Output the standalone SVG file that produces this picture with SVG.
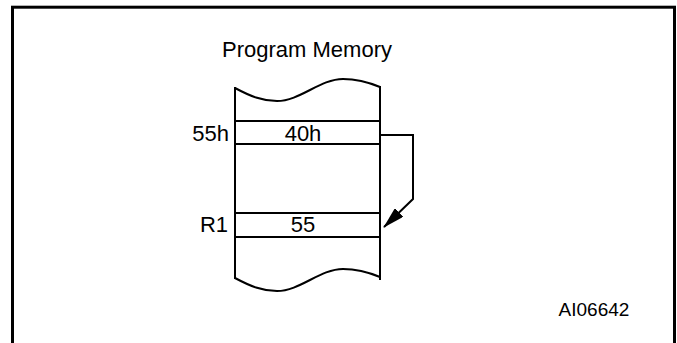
<svg xmlns="http://www.w3.org/2000/svg" width="677" height="343" viewBox="0 0 677 343">
<style>
.t{font-family:"Liberation Sans",Arial,sans-serif;font-size:22px;fill:#000}
.ln{fill:none;stroke:#000;stroke-width:2}
</style>
<defs>
<marker id="ah" markerWidth="11" markerHeight="6" refX="10.5" refY="3" orient="auto" markerUnits="strokeWidth">
<path d="M0,0 L11,3 L0,6 Z" fill="#000"/>
</marker>
</defs>
<rect x="12.5" y="7.2" width="662" height="345" fill="none" stroke="#000" stroke-width="3"/>
<g id="memory">
<text class="t" x="307" y="57" text-anchor="middle">Program Memory</text>
<path class="ln" d="M235,88 C250,96 262,101 277,101 C300,101 320,79 343,79 C356,79 368,82 380,87"/>
<path class="ln" d="M235,278 C250,286 262,291 277,291 C300,291 320,269 343,269 C356,269 368,272 380,277"/>
<line class="ln" x1="235" y1="87" x2="235" y2="279"/>
<line class="ln" x1="380" y1="86" x2="380" y2="280"/>
</g>
<g id="row55h">
<line class="ln" x1="235" y1="121" x2="380" y2="121"/>
<line class="ln" x1="235" y1="144" x2="380" y2="144"/>
<text class="t" x="303" y="141" text-anchor="middle">40h</text>
<text class="t" x="229" y="141" text-anchor="end">55h</text>
</g>
<g id="rowR1">
<line class="ln" x1="235" y1="213" x2="380" y2="213"/>
<line class="ln" x1="235" y1="237" x2="380" y2="237"/>
<text class="t" x="303" y="232" text-anchor="middle">55</text>
<text class="t" x="228" y="232" text-anchor="end">R1</text>
</g>
<g id="connectors">
<polyline class="ln" points="381,135 413,135 413,199 384,227" marker-end="url(#ah)"/>
</g>
<text class="t" x="594" y="316" text-anchor="middle" style="font-size:19px">AI06642</text>
</svg>
